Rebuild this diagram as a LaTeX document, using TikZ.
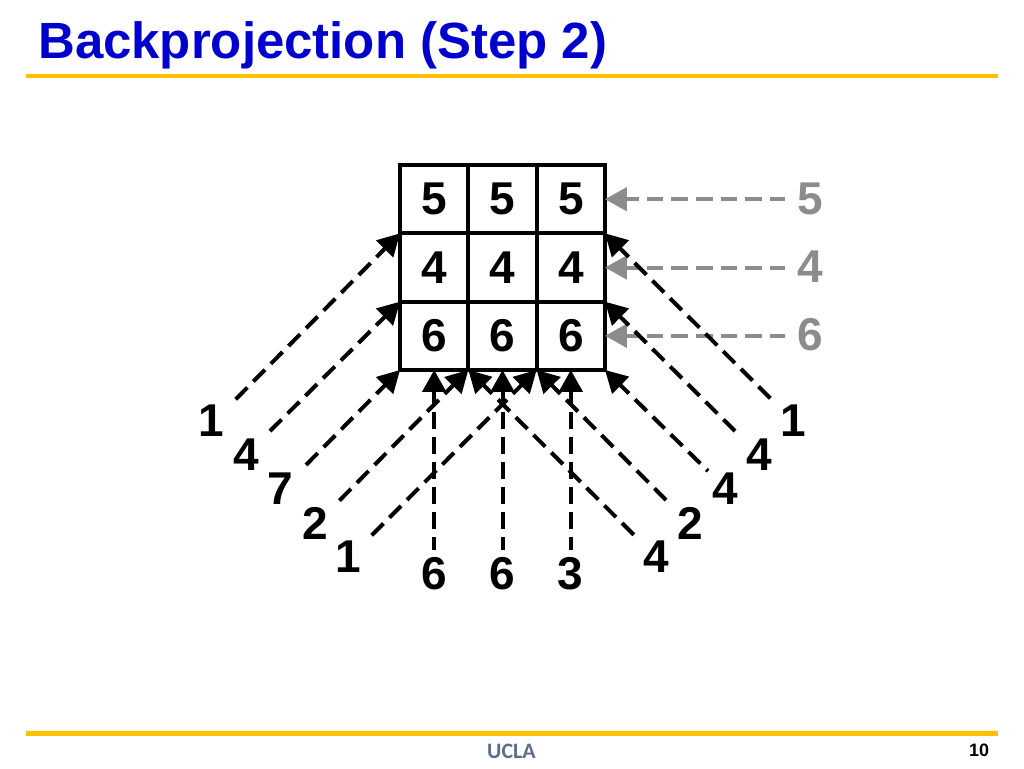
\documentclass[tikz,border=0pt]{standalone}
\usepackage{fontspec}
\setmainfont{Liberation Sans}
\newfontfamily\uclafont{Carlito}
\usetikzlibrary{arrows.meta}
\definecolor{titleblue}{HTML}{0000CC}
\definecolor{rulegold}{HTML}{FFC000}
\definecolor{softgray}{HTML}{8C8C8C}
\definecolor{uclablue}{HTML}{5B6C8F}
\tikzset{
  x=0.75pt,y=-0.75pt,
  cellbox/.style={draw=black,line width=3pt,minimum width=51.25pt,minimum height=51.25pt,inner sep=0pt,outer sep=0pt,font=\fontsize{34.5}{36}\bfseries},
  digit/.style={inner sep=0pt,font=\fontsize{34.5}{36}\bfseries},
  graydigit/.style={digit,text=softgray},
  ray/.style={line width=3pt,dash pattern=on 12.4pt off 6.35pt,dash phase=3pt,{Triangle[length=16.5pt,width=17.5pt]}-},
  grayray/.style={ray,draw=softgray,dash pattern=on 12.4pt off 6.1pt},
  rulebar/.style={draw=rulegold,line width=3.2pt},
}
\begin{document}
\begin{tikzpicture}
\useasboundingbox (0,0) rectangle (1024,768);
% title and rules
\node[anchor=base west,inner sep=0pt,text=titleblue,font=\fontsize{38.2}{42}\bfseries] (title) at (38,58) {Backprojection (Step 2)};
\coordinate (rta) at (26,76); \coordinate (rtb) at (998,76);
\coordinate (rba) at (26,733.5); \coordinate (rbb) at (998,733.5);
\draw[rulebar] (rta) -- (rtb);
\draw[rulebar] (rba) -- (rbb);
\node[inner sep=0pt,text=uclablue,font=\uclafont\fontsize{16.5}{17}\bfseries] (ucla) at (511.5,751) {UCLA};
\node[inner sep=0pt,font=\fontsize{13.5}{14}\bfseries] (pageno) at (979,750) {10};
% grid
\node[cellbox] (c11) at (434.2,199.2) {5};
\node[cellbox] (c12) at (502.5,199.2) {5};
\node[cellbox] (c13) at (570.8,199.2) {5};
\node[cellbox] (c21) at (434.2,267.5) {4};
\node[cellbox] (c22) at (502.5,267.5) {4};
\node[cellbox] (c23) at (570.8,267.5) {4};
\node[cellbox] (c31) at (434.2,335.8) {6};
\node[cellbox] (c32) at (502.5,335.8) {6};
\node[cellbox] (c33) at (570.8,335.8) {6};
% labels
\node[graydigit] (g1) at (810,199) {5};
\node[graydigit] (g2) at (810,267) {4};
\node[graydigit] (g3) at (810,335) {6};
\node[digit] (l1) at (211,421) {1};
\node[digit] (l2) at (246,455) {4};
\node[digit] (l3) at (280,489) {7};
\node[digit] (l4) at (315,523) {2};
\node[digit] (l5) at (348,557) {1};
\node[digit] (b1) at (434,574) {6};
\node[digit] (b2) at (502.5,574) {6};
\node[digit] (b3) at (570.5,574) {3};
\node[digit] (r5) at (656,557) {4};
\node[digit] (r4) at (690,523) {2};
\node[digit] (r3) at (725,489) {4};
\node[digit] (r2) at (759,455) {4};
\node[digit] (r1) at (793,421) {1};
% free ends
\coordinate (gs1) at (785,199.2);
\coordinate (gs2) at (785,267.5);
\coordinate (gs3) at (785,335.8);
\coordinate (ls1) at (234,401);
\coordinate (ls2) at (264,437);
\coordinate (ls3) at (302,469);
\coordinate (ls4) at (336,504);
\coordinate (ls5) at (370,537);
\coordinate (bs1) at (434.2,550);
\coordinate (bs2) at (502.5,550);
\coordinate (bs3) at (570.8,550);
\coordinate (rs5) at (637,538);
\coordinate (rs4) at (672,506);
\coordinate (rs3) at (708,471);
\coordinate (rs2) at (741,437);
\coordinate (rs1) at (773,401);
% gray rays
\draw[grayray] (c13.east) -- (gs1);
\draw[grayray] (c23.east) -- (gs2);
\draw[grayray] (c33.east) -- (gs3);
% black rays
\draw[ray] (c21.north west) -- (ls1);
\draw[ray] (c31.north west) -- (ls2);
\draw[ray] (c31.south west) -- (ls3);
\draw[ray] (c32.south west) -- (ls4);
\draw[ray] (c33.south west) -- (ls5);
\draw[ray] (c31.south) -- (bs1);
\draw[ray] (c32.south) -- (bs2);
\draw[ray] (c33.south) -- (bs3);
\draw[ray] (c32.south west) -- (rs5);
\draw[ray] (c33.south west) -- (rs4);
\draw[ray] (c33.south east) -- (rs3);
\draw[ray] (c33.north east) -- (rs2);
\draw[ray] (c23.north east) -- (rs1);
\end{tikzpicture}
\end{document}
